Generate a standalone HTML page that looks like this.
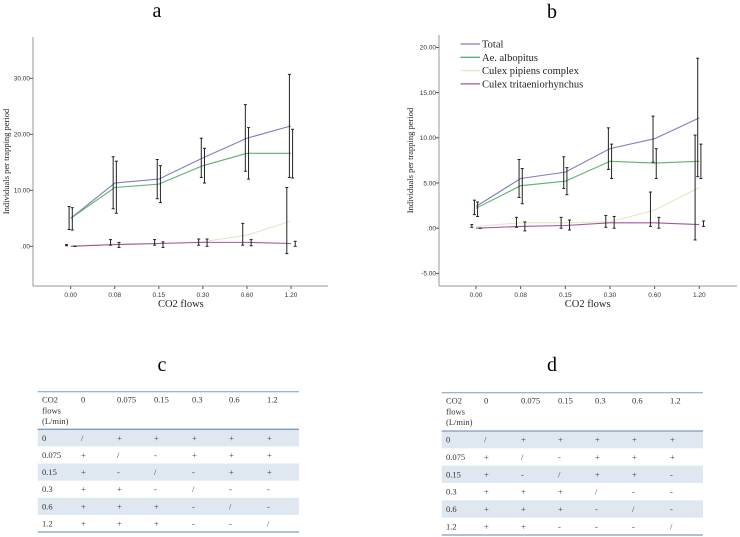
<!DOCTYPE html>
<html><head><meta charset="utf-8">
<style>
body{margin:0;background:#fff;}
#root{position:relative;width:740px;height:537px;overflow:hidden;background:#fff;font-family:"Liberation Serif",serif;}
svg text{font-family:"Liberation Serif",serif;}
.tk{font-family:"Liberation Sans",sans-serif;font-size:6.5px;fill:#333;}
</style></head>
<body>
<div id="root">
<svg id="svg" width="740" height="537" viewBox="0 0 740 537">
<text x="157" y="17" font-size="20" text-anchor="middle">a</text>
<text x="552" y="18" font-size="20" text-anchor="middle">b</text>
<text x="162" y="371" font-size="20" text-anchor="middle">c</text>
<text x="552" y="371" font-size="20" text-anchor="middle">d</text>
</svg>
</div>
<script>
// shared categories
const categories = ["0.00","0.08","0.15","0.30","0.60","1.20"];
const seriesNames = ["Total","Ae. albopitus","Culex pipiens complex","Culex tritaeniorhynchus"];
// panel a
const aTotal = [5.0,11.3,12.0,15.8,19.3,21.5];
const aAe = [5.0,10.5,11.1,14.4,16.6,16.6];
const aPip = [0.1,0.4,0.5,0.8,2.0,4.5];
const aTri = [0.0,0.3,0.5,0.7,0.7,0.5];
const aTotalLo = [3.0,6.7,8.5,12.3,13.4,12.3];
const aTotalHi = [7.1,16.0,15.5,19.3,25.3,30.7];
const aAeLo = [2.9,5.9,7.8,11.3,12.0,12.2];
const aAeHi = [6.9,15.2,14.4,17.5,21.2,20.9];
const aPipLo = [0.1,0.2,0.2,0.2,0.2,-1.3];
const aPipHi = [0.3,1.2,1.2,1.3,4.1,10.5];
const aTriLo = [0.0,-0.2,-0.2,0.0,0.1,0.0];
const aTriHi = [0.0,0.7,0.8,1.3,1.2,0.9];
const aTicks = [0,10,20,30];
const aTickLabels = [".00","10.00","20.00","30.00"];
// panel b
const bTotal = [2.4,5.5,6.2,8.8,9.9,12.2];
const bAe = [2.2,4.7,5.2,7.4,7.2,7.4];
const bPip = [0.2,0.6,0.6,0.7,2.0,4.5];
const bTri = [0.0,0.2,0.3,0.6,0.6,0.4];
const bTotalLo = [1.5,3.4,4.4,6.5,7.3,5.7];
const bTotalHi = [3.1,7.6,7.9,11.1,12.4,18.8];
const bAeLo = [1.3,2.7,3.7,5.5,5.5,5.5];
const bAeHi = [2.9,6.6,6.7,9.3,8.8,9.3];
const bPipLo = [0.1,0.1,0.0,0.1,0.2,-1.3];
const bPipHi = [0.4,1.2,1.2,1.4,4.0,10.3];
const bTriLo = [0.0,-0.3,-0.2,0.0,0.0,0.2];
const bTriHi = [0.0,0.7,0.9,1.3,1.2,0.8];
const bTicks = [-5,0,5,10,15,20];
const bTickLabels = ["-5.00",".00","5.00","10.00","15.00","20.00"];
// tables
const colHeaders = ["0","0.075","0.15","0.3","0.6","1.2"];
const rowHeaders = ["0","0.075","0.15","0.3","0.6","1.2"];
const cCells = [["/","+","+","+","+","+"],["+","/","-","+","+","+"],["+","-","/","-","+","+"],["+","+","-","/","-","-"],["+","+","+","-","/","-"],["+","+","+","-","-","/"]];
const dCells = [["/","+","+","+","+","+"],["+","/","-","+","+","+"],["+","-","/","+","+","-"],["+","+","+","/","-","-"],["+","+","+","-","/","-"],["+","+","-","-","-","/"]];

const NS="http://www.w3.org/2000/svg";
const svg=document.getElementById('svg');
function mk(tag,attrs,parent,txt){const e=document.createElementNS(NS,tag);for(const k in attrs)e.setAttribute(k,attrs[k]);if(txt!==undefined)e.textContent=txt;(parent||svg).appendChild(e);return e;}
const colors=["#7f7fbf","#5fb06a","#e6e6c6","#a0569e"];
const offs=[-1.6,1.6,-4.2,4.2];

function chart(id,P,series,los,his,ticks,tickLabels,legend){
  const g=mk('g',{});
  
  
  const ys=v=>P.y0-(v-P.v0)*P.k;
  const xs=i=>P.x0+i*P.dx;
  let e=mk('line',{x1:P.L,y1:P.T,x2:P.L,y2:P.B,stroke:'#999','stroke-width':1},g);
  
  e=mk('line',{x1:P.L,y1:P.B,x2:P.R,y2:P.B,stroke:'#999','stroke-width':1},g);
  
  ticks.forEach((t,i)=>{
    const y=ys(t);
    let l=mk('line',{x1:P.L-3,y1:y,x2:P.L,y2:y,stroke:'#555'},g);
    
    let tx=mk('text',{x:P.L-3,y:y+2.3,'text-anchor':'end',class:'tk'},g,tickLabels[i]);
    
  });
  categories.forEach((c,i)=>{
    const x=xs(i);
    let l=mk('line',{x1:x,y1:P.B,x2:x,y2:P.B+3,stroke:'#555'},g);
    
    let tx=mk('text',{x:x,y:P.B+11,'text-anchor':'middle',class:'tk'},g,c);
    
  });
  let t=mk('text',{x:(P.x0+xs(5))/2,y:P.B+21,'text-anchor':'middle','font-size':10.5,fill:'#222'},g,'CO2 flows');
  
  const yc=(P.T+P.B)/2;
  t=mk('text',{x:P.yl,y:yc,'text-anchor':'middle','font-size':8.5,fill:'#222',transform:`rotate(-90 ${P.yl} ${yc})`},g,'Individuals per trapping period');
  
  [2,3,1,0].forEach(s=>{
    const pts=series[s].map((v,i)=>xs(i)+','+ys(v)).join(' ');
    let pl=mk('polyline',{points:pts,fill:'none',stroke:colors[s],'stroke-width':1.1},g);
    
    
  });
  series.forEach((_,s)=>{
    los[s].forEach((lo,i)=>{
      const x=xs(i)+offs[s],y1=ys(his[s][i]),y2=ys(lo);
      const eg=mk('g',{stroke:'#222','stroke-width':1},g);
      
      
      mk('line',{x1:x,y1:y1,x2:x,y2:y2},eg);
      mk('line',{x1:x-1.5,y1:y1,x2:x+1.5,y2:y1},eg);
      mk('line',{x1:x-1.5,y1:y2,x2:x+1.5,y2:y2},eg);
    });
  });
  if(legend){
    seriesNames.forEach((n,s)=>{
      const y=44+s*13.3;
      const lg=mk('g',{},g);
      
      
      mk('line',{x1:460.5,y1:y,x2:480,y2:y,stroke:colors[s],'stroke-width':1.3},lg);
      mk('text',{x:482,y:y+3.5,'font-size':10.5,fill:'#222'},lg,n);
    });
  }
}
chart('chart-a',{L:33,T:37,B:286,R:328,x0:70.7,dx:44.06,y0:246.3,v0:0,k:5.6,yl:9},
  [aTotal,aAe,aPip,aTri],[aTotalLo,aAeLo,aPipLo,aTriLo],[aTotalHi,aAeHi,aPipHi,aTriHi],aTicks,aTickLabels,false);
chart('chart-b',{L:439,T:35,B:286,R:737,x0:476,dx:44.66,y0:228.2,v0:0,k:9.04,yl:413},
  [bTotal,bAe,bPip,bTri],[bTotalLo,bAeLo,bPipLo,bTriLo],[bTotalHi,bAeHi,bPipHi,bTriHi],bTicks,bTickLabels,true);

function table(id,T,cells){
  const g=mk('g',{});
  
  
  const rh=(T.bot-T.hb)/6;
  for(let r=0;r<6;r+=2){
    let rc=mk('rect',{x:T.L,y:T.hb+r*rh,width:T.R-T.L,height:rh,fill:'#dfe7f1'},g);
    
  }
  [[T.top,1],[T.hb,1.3],[T.bot,1.3]].forEach(([y,w])=>{
    let l=mk('line',{x1:T.L,y1:y,x2:T.R,y2:y,stroke:'#7d9cc0','stroke-width':w},g);
    
  });
  const fs=8.5;
  ['CO2','flows','(L/min)'].forEach((s,i)=>{
    let tx=mk('text',{x:T.cx[0],y:T.top+11+i*10.7,'font-size':fs,fill:'#333'},g,s);
    
  });
  colHeaders.forEach((h,i)=>{
    let tx=mk('text',{x:T.cx[i+1],y:T.top+11,'font-size':fs,fill:'#333'},g,h);
    
  });
  rowHeaders.forEach((h,r)=>{
    const y=T.hb+r*rh+rh/2+3;
    let tx=mk('text',{x:T.cx[0],y:y,'font-size':fs,fill:'#333'},g,h);
    
    cells[r].forEach((c,i)=>{
      let tc=mk('text',{x:T.cx[i+1],y:y,'font-size':fs,fill:'#444'},g,c);
      
    });
  });
}
table('table-c',{L:37.7,R:299,top:391.7,hb:429.3,bot:532,cx:[42,81,117,154,192,229,267]},cCells);
table('table-d',{L:441.7,R:703,top:392.7,hb:431,bot:535,cx:[446,484,521,558,595,632,670]},dCells);
</script>
</body></html>
